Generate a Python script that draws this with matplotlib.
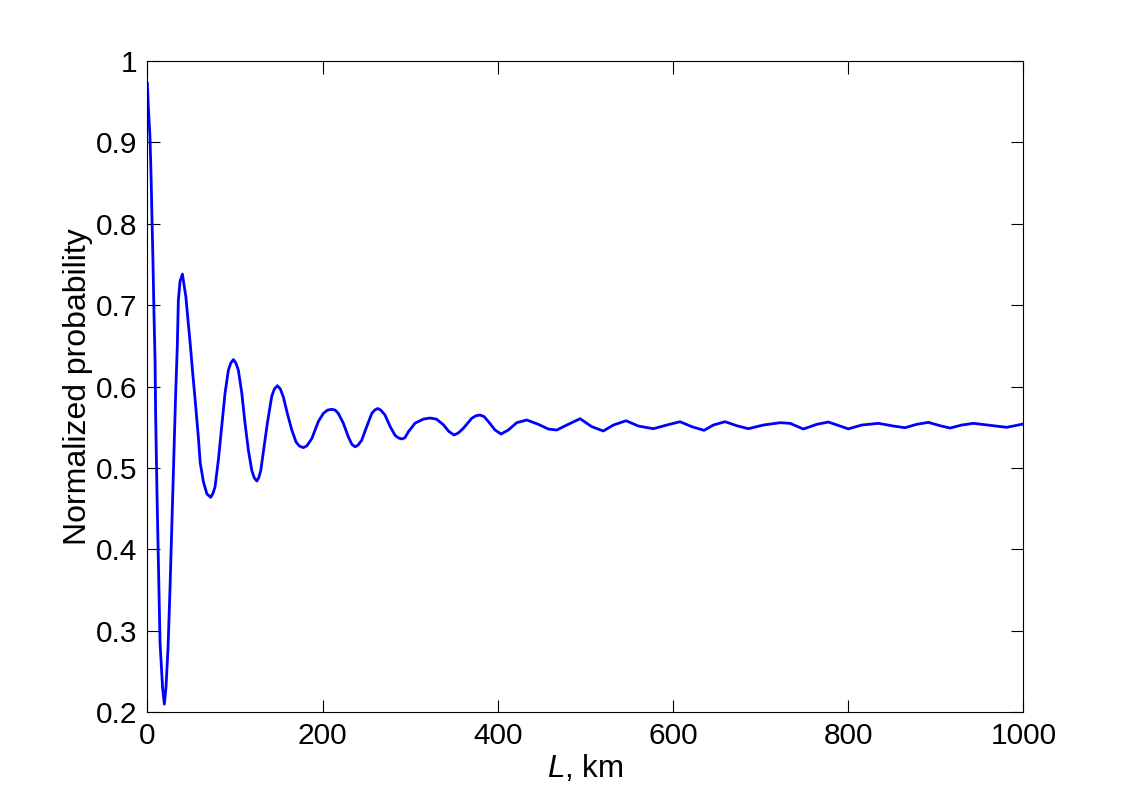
import matplotlib
matplotlib.use("Agg")
import matplotlib.pyplot as plt

# values
L_km = [0, 1.1, 3, 4.2, 5.3, 6.5, 7.6, 8.8, 9.4, 11, 12.8, 14.5, 17.4, 19.4, 21.3,
        23.6, 25.9, 28.2, 30.5, 32.2, 34.2, 35.4, 37.3, 40, 44, 46.5, 48.9, 51.5,
        54.6, 58.2, 60.4, 64, 68, 72.4, 75, 77.3, 81.1, 84.9, 88.7, 92.5, 95.3,
        98.2, 101, 103.9, 107.8, 111.5, 115.3, 119.2, 122, 124.9, 127.2, 129.5,
        133.2, 137, 142, 145, 148.4, 151.8, 155.3, 159.8, 164.8, 169.7, 173.5,
        178, 182, 187.7, 195.2, 200.9, 205.5, 210.5, 214.5, 218, 223.7, 229.5,
        233.5, 237.1, 240.5, 244.7, 250.5, 256.2, 259.5, 263, 266.5, 271.3,
        277.1, 282.8, 286.5, 290.4, 294, 298, 305.6, 315.1, 322.7, 330, 338,
        344, 350.1, 355, 360.7, 370.3, 375, 379.8, 384.5, 389.3, 396.9, 403.8,
        412.1, 421.7, 433.1, 446.3, 457.8, 467.4, 478.8, 494, 507.3, 520.5, 532,
        546.5, 560.5, 577.6, 592.9, 608.1, 621.5, 635.5, 646.1, 659.5, 672.8,
        686.1, 703.2, 722.3, 733.7, 748.9, 764.2, 777.4, 790.8, 800.2, 815.5,
        834.5, 851.6, 865, 878.3, 891.6, 904.9, 916.3, 929.7, 943, 962, 981, 1000]
prob = [0.972, 0.944, 0.906, 0.86, 0.808, 0.749, 0.688, 0.632, 0.57, 0.469, 0.371,
        0.285, 0.230, 0.210, 0.231, 0.279, 0.353, 0.44, 0.526, 0.587, 0.65,
        0.706, 0.729, 0.738, 0.71, 0.68, 0.653, 0.62, 0.583, 0.538, 0.506, 0.483,
        0.468, 0.464, 0.469, 0.477, 0.510, 0.551, 0.592, 0.620, 0.629, 0.633,
        0.629, 0.620, 0.592, 0.555, 0.522, 0.497, 0.488, 0.484, 0.488, 0.497,
        0.526, 0.555, 0.588, 0.597, 0.601, 0.597, 0.587, 0.567, 0.547, 0.532,
        0.527, 0.525, 0.527, 0.536, 0.557, 0.567, 0.571, 0.572, 0.571, 0.567,
        0.555, 0.538, 0.529, 0.526, 0.528, 0.534, 0.551, 0.567, 0.571, 0.573,
        0.571, 0.565, 0.551, 0.540, 0.537, 0.5356, 0.537, 0.5445, 0.555, 0.560,
        0.5613, 0.560, 0.553, 0.545, 0.5405, 0.543, 0.5487, 0.561, 0.564, 0.565,
        0.563, 0.557, 0.5466, 0.5417, 0.5466, 0.5556, 0.5589, 0.5536, 0.5478,
        0.5466, 0.5527, 0.5605, 0.5507, 0.5454, 0.5527, 0.558, 0.5515, 0.5482,
        0.5527, 0.5568, 0.5507, 0.5462, 0.5527, 0.5568, 0.5519, 0.5482, 0.5527,
        0.5556, 0.5548, 0.5478, 0.5536, 0.5564, 0.5515, 0.548, 0.5527, 0.5548,
        0.5515, 0.5494, 0.5536, 0.556, 0.5519, 0.549, 0.5527, 0.5548, 0.5523,
        0.5499, 0.554]
x_ticks = [0, 200, 400, 600, 800, 1000]
y_ticks = [0.2, 0.3, 0.4, 0.5, 0.6, 0.7, 0.8, 0.9, 1]
y_ticklabels = ["0.2", "0.3", "0.4", "0.5", "0.6", "0.7", "0.8", "0.9", "1"]

plt.rcParams['font.family'] = ['Liberation Sans', 'DejaVu Sans']
plt.rcParams['mathtext.fontset'] = 'custom'
plt.rcParams['mathtext.it'] = 'Liberation Sans:italic'
plt.rcParams['mathtext.rm'] = 'Liberation Sans'

fig = plt.figure(figsize=(11.3, 8), dpi=100)
ax = fig.add_axes([0.1304, 0.1096, 0.7752, 0.8145])
ax.plot(L_km, prob, color='#0000ff', lw=2, solid_joinstyle='round')

ax.set_xlim(0, 1000)
ax.set_ylim(0.2, 1)
ax.set_xticks(x_ticks)
ax.set_yticks(y_ticks)
ax.set_yticklabels(y_ticklabels)
ax.tick_params(direction='in', length=9, width=0.8, top=True, right=True,
               labelsize=21.5, pad=7)
for s in ax.spines.values():
    s.set_linewidth(0.8)

ax.set_xlabel('$L$, km', fontsize=22.5, labelpad=2)
ax.set_ylabel('Normalized probability', fontsize=23, labelpad=2)

fig.savefig('out.png', dpi=100)
